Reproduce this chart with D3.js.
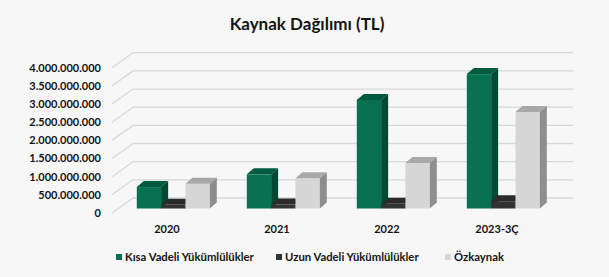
<!DOCTYPE html>
<html><head><meta charset="utf-8">
<script src="https://cdn.jsdelivr.net/npm/d3@7"></script>
<style>
html,body{margin:0;padding:0;background:#f7f7f7;}
svg{display:block;font-family:Lato,"Open Sans",sans-serif;}
</style></head>
<body>
<svg id="c" width="609" height="277"></svg>
<script>
const categories = ["2020","2021","2022","2023-3Ç"];
const seriesNames = ["Kısa Vadeli Yükümlülükler","Uzun Vadeli Yükümlülükler","Özkaynak"];
const kisaVadeli = [590000000, 940000000, 2990000000, 3700000000];
const uzunVadeli = [100000000, 110000000, 130000000, 200000000];
const ozkaynak = [680000000, 830000000, 1250000000, 2660000000];
const yTicks = [0,500000000,1000000000,1500000000,2000000000,2500000000,3000000000,3500000000,4000000000];

const seriesValues = [kisaVadeli, uzunVadeli, ozkaynak];
const colors = [
  {front:"#07714f", top:"#005b3f", side:"#004a33"},
  {front:"#333333", top:"#2b2b2b", side:"#1f1f1f"},
  {front:"#d6d6d6", top:"#a8a8a8", side:"#8e8e8e"}
];

const svg = d3.select("#c");
const W = 609, H = 277;
svg.append("rect").attr("width",W).attr("height",H).attr("fill","#f7f7f7");

// 3D geometry
const depthDX = 21, depthDY = -15;   // floor depth
const barZ = 0.3;                     // bar placement depth (fraction)
const barDX = 7, barDY = -6;         // bar thickness

const y = d3.scaleLinear().domain([0,4000000000]).range([213, 67.7]);
const x = d3.scaleBand().domain(categories).range([112, 552]).paddingInner(0).paddingOuter(0);
const groupW = 73;
const xs = d3.scaleBand().domain(d3.range(3)).range([0, groupW]).padding(0);

// gridlines on back wall + diagonal on left wall
const g = svg.append("g");
yTicks.forEach(t => {
  const yf = y(t);
  g.append("line").attr("x1", x.range()[0]).attr("y1", yf)
   .attr("x2", x.range()[0]+depthDX).attr("y2", yf+depthDY)
   .attr("stroke","#d9d9d9").attr("stroke-width",1.3);
  g.append("line").attr("x1", x.range()[0]+depthDX).attr("y1", yf+depthDY)
   .attr("x2", x.range()[1]+depthDX).attr("y2", yf+depthDY)
   .attr("stroke","#d9d9d9").attr("stroke-width",1.3);
});

// y axis labels
const fmt = v => d3.format(",")(v).replace(/,/g,".");
svg.append("g").selectAll("text").data(yTicks).join("text")
  .attr("x", 101).attr("y", d => y(d)).attr("dy","0.35em")
  .attr("text-anchor","end").attr("font-size",11).attr("font-weight","bold")
  .attr("fill","#141414").text(fmt);

// bars
const ox = depthDX*barZ, oy = depthDY*barZ;
const bars = svg.append("g");
categories.forEach((c, ci) => {
  const gx = x(c) + (x.bandwidth()-groupW)/2 + ox;
  seriesValues.forEach((vals, si) => {
    const v = vals[ci];
    const x0 = gx + xs(si), x1 = x0 + xs.bandwidth();
    const yb = y(0) + oy, yt = y(v) + oy;
    const col = colors[si];
    bars.append("rect").attr("x", x0).attr("y", yt).attr("width", x1-x0).attr("height", yb-yt).attr("fill", col.front);
    bars.append("path").attr("d", `M${x0},${yt}L${x0+barDX},${yt+barDY}L${x1+barDX},${yt+barDY}L${x1},${yt}Z`).attr("fill", col.top);
    bars.append("path").attr("d", `M${x1},${yt}L${x1+barDX},${yt+barDY}L${x1+barDX},${yb+barDY}L${x1},${yb}Z`).attr("fill", col.side);
  });
});

// category labels
svg.append("g").selectAll("text").data(categories).join("text")
  .attr("x", d => x(d)+x.bandwidth()/2).attr("y", 229).attr("dy","0.35em")
  .attr("text-anchor","middle").attr("font-size",11).attr("font-weight","bold")
  .attr("fill","#141414").text(d => d);

// title
svg.append("text").attr("x", 307).attr("y", 30).attr("text-anchor","middle")
  .attr("font-size",17).attr("font-weight","bold").attr("fill","#141414")
  .text("Kaynak Dağılımı (TL)");

// legend
const legX = [116, 276, 445];
const leg = svg.append("g");
seriesNames.forEach((n, i) => {
  leg.append("rect").attr("x", legX[i]).attr("y", 254).attr("width",6).attr("height",6).attr("fill", colors[i].front);
  leg.append("text").attr("x", legX[i]+9).attr("y", 257.5).attr("dy","0.35em")
    .attr("font-size",11.3).attr("font-weight","bold").attr("fill","#141414").text(n);
});
</script>
</body></html>
